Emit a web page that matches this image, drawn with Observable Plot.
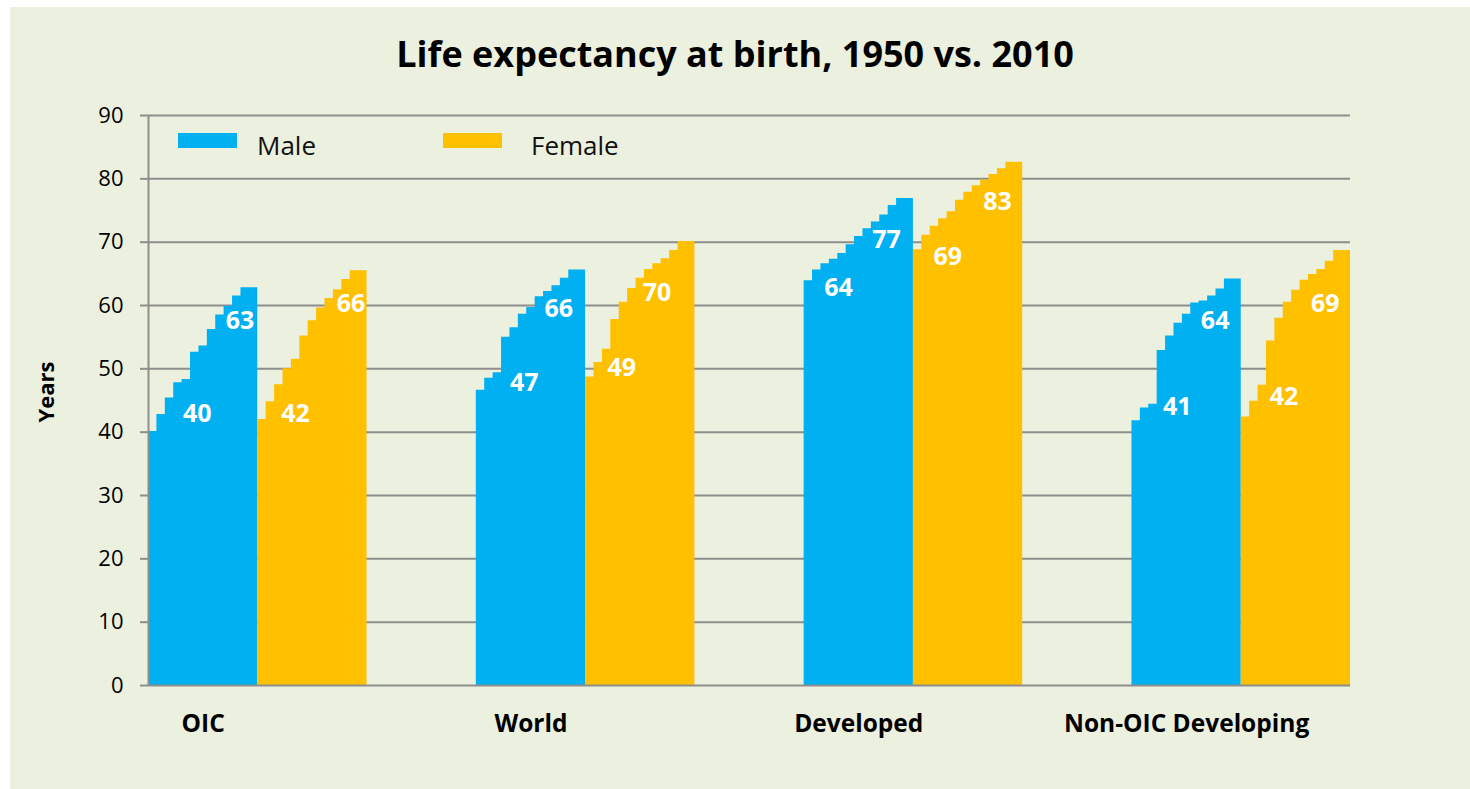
<!DOCTYPE html>
<html>
<head>
<meta charset="utf-8">
<script src="https://cdn.jsdelivr.net/npm/d3@7"></script>
<script src="https://cdn.jsdelivr.net/npm/@observablehq/plot@0.6"></script>
<style>
  body { margin: 0; background: #ffffff; font-family: 'Open Sans', sans-serif; }
  #page { position: relative; width: 1470px; height: 789px; overflow: hidden; }
  #panel { position: absolute; left: 10px; top: 7px; width: 1460px; height: 782px; background: #EBF0DF; }
  #title { position: absolute; left: 0; width: 1470px; top: 36px; text-align: center; font-weight: 700; font-size: 36px; line-height: 36px; color: #000; white-space: nowrap; }
  #ylabel { position: absolute; left: 45px; top: 392px; transform: translate(-50%, -50%) rotate(-90deg); font-weight: 700; font-size: 22px; line-height: 22px; white-space: nowrap; color: #000; }
  .sw { position: absolute; height: 15px; width: 59px; }
  .lt { position: absolute; font-size: 26px; line-height: 26px; color: #111; white-space: nowrap; }
  #chart { position: absolute; left: 0; top: 80px; }
</style>
</head>
<body>
<div id="page">
  <div id="panel"></div>
  <div id="title">Life expectancy at birth, 1950 vs. 2010</div>
  <div id="ylabel">Years</div>
  <div id="legend"></div>
  <div id="chart"></div>
</div>
<script>
// ---- data ----
const groups = ["OIC", "World", "Developed", "Non-OIC Developing"];
const genders = ["Male", "Female"];
const genderColors = ["#00B0F0", "#FFC000"];
const periods = ["1950-55","1955-60","1960-65","1965-70","1970-75","1975-80","1980-85","1985-90","1990-95","1995-00","2000-05","2005-10"];
const yTicks = [0, 10, 20, 30, 40, 50, 60, 70, 80, 90];

const maleValues = [
  [40.1, 42.8, 45.4, 47.8, 48.3, 52.6, 53.6, 56.2, 58.5, 59.9, 61.5, 62.8],
  [46.6, 48.5, 49.4, 55.0, 56.5, 58.6, 59.7, 61.4, 62.2, 63.1, 64.3, 65.6],
  [63.9, 65.6, 66.6, 67.3, 68.2, 69.6, 70.9, 72.1, 73.2, 74.3, 75.8, 76.9],
  [41.8, 43.8, 44.4, 52.9, 55.2, 57.2, 58.6, 60.4, 60.7, 61.5, 62.6, 64.2]
];
const femaleValues = [
  [42.0, 44.8, 47.5, 50.0, 51.5, 55.2, 57.6, 59.6, 61.1, 62.5, 64.1, 65.5],
  [48.7, 51.0, 53.1, 57.8, 60.5, 62.7, 64.3, 65.7, 66.6, 67.4, 68.7, 70.1],
  [68.8, 71.1, 72.5, 73.7, 74.8, 76.6, 77.9, 78.9, 79.8, 80.7, 81.6, 82.6],
  [42.4, 44.9, 47.4, 54.4, 58.0, 60.5, 62.4, 64.0, 64.9, 65.7, 67.0, 68.7]
];
// labelled values, 1950 and 2010 (as printed in the reference)
const labels1950 = [[40, 42], [47, 49], [64, 69], [41, 42]];
const labels2010 = [[63, 66], [66, 70], [77, 83], [64, 69]];

// ---- layout (placement of annotations, in data units: step within bar, years) ----
const label1950Spot = [[[5.8, 42.9], [4.5, 42.9]], [[5.7, 47.8], [4.3, 50.1]], [[4.1, 62.8], [4.1, 67.7]], [[5.4, 43.9], [5.1, 45.5]]];
const label2010Spot = [[[10.9, 57.6], [11.1, 60.3]], [[9.8, 59.5], [8.5, 61.9]], [[9.8, 70.3], [10.0, 76.3]], [[9.9, 57.6], [10.0, 60.3]]];

const STEPS = periods.length + 1;   // width of one gender's stepped bar
const GAP = STEPS;                  // space between groups
const GROUP = 2 * STEPS + GAP;
const seriesValues = [maleValues, femaleValues];

const rows = [];
groups.forEach((g, gi) => {
  genders.forEach((s, si) => {
    const vals = seriesValues[si][gi];
    const start = gi * GROUP + si * STEPS;
    vals.forEach((v, k) => rows.push({group: g, gender: s, x: start + k, v}));
    rows.push({group: g, gender: s, x: start + vals.length + 1, v: vals[vals.length - 1]});
  });
});

const labelRows = [];
groups.forEach((g, gi) => {
  genders.forEach((s, si) => {
    const start = gi * GROUP + si * STEPS;
    labelRows.push({x: start + label1950Spot[gi][si][0], y: label1950Spot[gi][si][1], text: String(labels1950[gi][si])});
    labelRows.push({x: start + label2010Spot[gi][si][0], y: label2010Spot[gi][si][1], text: String(labels2010[gi][si])});
  });
});

const groupTicks = groups.map((g, i) => i * GROUP + STEPS / 2);
const xMax = groups.length * 2 * STEPS + (groups.length - 1) * GAP;
const gray = "#8E8E8E";

const plot = Plot.plot({
  width: 1470,
  height: 700,
  marginLeft: 148,
  marginRight: 120,
  marginTop: 35,
  marginBottom: 95,
  style: {fontFamily: "'Open Sans', sans-serif", background: "transparent", color: "#000"},
  x: {domain: [0, xMax], axis: null},
  y: {domain: [0, 90]},
  color: {domain: genders, range: genderColors},
  marks: [
    Plot.ruleY(yTicks.slice(1), {stroke: gray, strokeWidth: 2}),
    Plot.areaY(rows, {x: "x", y1: 0, y2: "v", z: d => d.group + "|" + d.gender, fill: "gender", curve: "step-after"}),
    Plot.ruleY([0], {stroke: gray, strokeWidth: 2}),
    Plot.ruleX([0], {y1: 0, y2: 90, stroke: gray, strokeWidth: 2}),
    Plot.axisY(yTicks, {tickSize: 8, tickPadding: 17, fontSize: 22, stroke: gray, strokeWidth: 2, fill: "#000", label: null}),
    Plot.axisX(groupTicks, {tickSize: 0, tickPadding: 29, fontSize: 24.5, fontWeight: "bold", fill: "#000",
      tickFormat: d => groups[Math.round((d - STEPS / 2) / GROUP)], label: null}),
    Plot.text(labelRows, {x: "x", y: "y", text: "text", fill: "#ffffff", fontSize: 25, fontWeight: "bold"})
  ]
});
document.getElementById("chart").appendChild(plot);

// legend
const legend = document.getElementById("legend");
const legendX = [178, 443];
genders.forEach((s, i) => {
  const sw = document.createElement("div");
  sw.className = "sw";
  sw.style.left = legendX[i] + "px";
  sw.style.top = "133px";
  sw.style.background = genderColors[i];
  legend.appendChild(sw);
  const t = document.createElement("div");
  t.className = "lt";
  t.style.left = (legendX[i] + 79 + (i ? 9 : 0)) + "px";
  t.style.top = "132px";
  t.textContent = s;
  legend.appendChild(t);
});
</script>
</body>
</html>
